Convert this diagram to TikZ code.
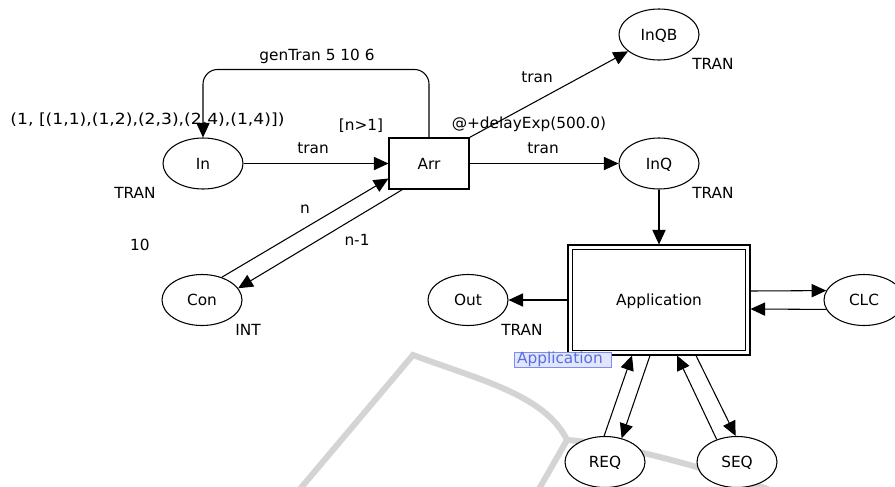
\documentclass[tikz,border=0pt]{standalone}
\usepackage{fontspec}
\setmainfont{DejaVu Sans}
\usetikzlibrary{shapes.geometric,arrows.meta,calc}
\definecolor{wmgray}{HTML}{D4D4D4}
\definecolor{tagline}{HTML}{7D8EF2}
\definecolor{tagfill}{HTML}{E1E6FC}
\definecolor{tagtext}{HTML}{5B6EE0}
\begin{document}
\begin{tikzpicture}[x=0.75pt,y=-0.75pt,
  font=\fontsize{11.5}{13}\selectfont,
  lbl/.style={inner sep=0pt, text height=8.4pt, text depth=0pt},
  place/.style={ellipse, draw, fill=white, line width=0.8pt,
    minimum width=60pt, minimum height=38.25pt, inner sep=0pt,
    text height=8.4pt, text depth=0pt},
  trans/.style={rectangle, draw, fill=white, line width=0.8pt,
    minimum width=60pt, minimum height=38.25pt, inner sep=0pt,
    text height=8.4pt, text depth=0pt},
  subst/.style={rectangle, draw, fill=white, line width=0.8pt,
    minimum width=136.5pt, minimum height=82.5pt, inner sep=0pt,
    text height=8.4pt, text depth=0pt},
  tag/.style={rectangle, draw=tagline, fill=tagfill, text=tagtext,
    line width=0.6pt, text width=68.5pt, align=left, inner xsep=2pt,
    inner ysep=0pt, text height=8.6pt, text depth=2.6pt},
  arc/.style={line width=0.8pt, -{Triangle[length=11pt,width=10pt]}},
  wm/.style={draw=wmgray, line width=4.5pt, line join=miter}]
\useasboundingbox (0,0) rectangle (895,486);

% faint background logo strokes
\draw[wm] (300,489) -- (413,355) .. controls (480,380) and (545,395) .. (567,440) -- (539,489);
\draw[wm] (567,440) .. controls (610,443) and (680,460) .. (768,489);

% places
\node[place] (in)   at (203,163.5) {In};
\node[place] (con)  at (202,300)   {Con};
\node[place] (inqb) at (659,34.5)  {InQB};
\node[place] (inq)  at (659,163.5) {InQ};
\node[place] (out)  at (468,300)   {Out};
\node[place] (clc)  at (864,300)   {CLC};
\node[place] (req)  at (605,462)   {REQ};
\node[place] (seq)  at (737,462)   {SEQ};

% transitions
\node[trans] (arr) at (429,163.5) {Arr};
\node[subst] (app) at (659,300) {Application};
\draw[line width=0.8pt] ($(app.north west)+(5,5)$) rectangle ($(app.south east)+(-5,-5)$);
\node[tag, anchor=north west] (apptag) at (514,352) {Application};

% arcs
\draw[arc] (in) -- (arr);
\draw[arc, rounded corners=11pt] (arr.north) -- ($(arr.north)+(0,-68)$) -| (in.north);
\draw[arc] (arr.north east) -- (inqb);
\draw[arc] (arr) -- (inq);
\draw[arc] (con.49) -- ($(arr.south west)+(0,-11)$);
\draw[arc] ($(arr.south west)+(14,0)$) -- (con.18);
\draw[arc] (inq) -- (app);
\draw[arc] (app) -- (out);
\draw[arc] ($(app.east)+(0,-9)$) -- (clc.166);
\draw[arc] (clc.194) -- ($(app.east)+(0,9)$);
\draw[arc] (req.92) -- ($(app.south)+(-27,0)$);
\draw[arc] ($(app.south)+(-9,0)$) -- (req.55);
\draw[arc] (seq.132) -- ($(app.south)+(18,0)$);
\draw[arc] ($(app.south)+(37,0)$) -- (seq.93);

% inscriptions
\node[lbl] (lgen)   at (317,55)    {genTran 5 10 6};
\node[lbl] (linit)  at (147.5,119) {\scalebox{1.12}[1]{(1, [(1,1),(1,2),(2,3),(2,4),(1,4)])}};
\node[lbl] (lguard) at (361,125)   {[n>1]};
\node[lbl] (ltr1)   at (313,148)   {tran};
\node[lbl] (ltin)   at (135,193)   {TRAN};
\node[lbl] (ln)     at (305,208)   {n};
\node[lbl] (lnm)    at (357,240)   {n-1};
\node[lbl] (lten)   at (140,245)   {10};
\node[lbl] (lint)   at (248,330)   {INT};
\node[lbl] (ltr2)   at (537,77)    {tran};
\node[lbl] (ldel)   at (529,123)   {@+delayExp(500.0)};
\node[lbl] (ltr3)   at (543,148)   {tran};
\node[lbl] (ltqb)   at (713,64)    {TRAN};
\node[lbl] (ltq)    at (713,193)   {TRAN};
\node[lbl] (ltout)  at (522,330)   {TRAN};
\end{tikzpicture}
\end{document}
